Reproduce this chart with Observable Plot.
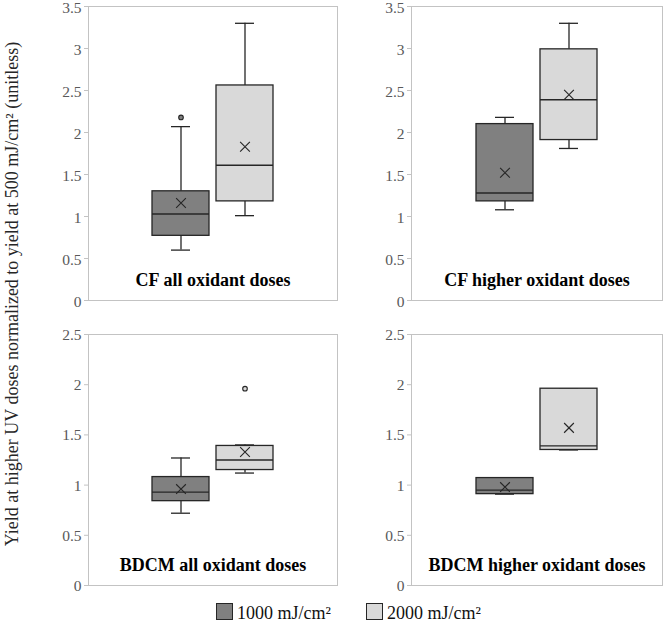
<!DOCTYPE html>
<html>
<head>
<meta charset="utf-8">
<script src="https://cdn.jsdelivr.net/npm/d3@7"></script>
<script src="https://cdn.jsdelivr.net/npm/@observablehq/plot@0.6"></script>
<style>
  html, body { margin: 0; padding: 0; background: #fff; }
  #root { position: relative; width: 664px; height: 622px; background: #fff; font-family: "Liberation Serif", "Times New Roman", serif; overflow: hidden; }
  .panel { position: absolute; }
  #ylabel { position: absolute; left: 12px; top: 294px; transform: translate(-50%, -50%) rotate(-90deg); white-space: nowrap; font-size: 18px; color: #262626; }
  .sw { position: absolute; width: 15px; height: 15px; border: 1px solid #262626; }
  .lt { position: absolute; font-size: 18px; color: #111; white-space: nowrap; line-height: 18px; }
</style>
</head>
<body>
<div id="root"></div>
<script>
// ---- data ----
const doses = ["1000", "2000"];
const doseLabels = ["1000 mJ/cm²", "2000 mJ/cm²"];
const doseColors = ["#808080", "#d9d9d9"];
const panelTitles = ["CF all oxidant doses", "CF higher oxidant doses", "BDCM all oxidant doses", "BDCM higher oxidant doses"];
const yMax = [3.5, 3.5, 2.5, 2.5];
const yTicksCF = [0, 0.5, 1, 1.5, 2, 2.5, 3, 3.5];
const yTicksBDCM = [0, 0.5, 1, 1.5, 2, 2.5];
const whiskerLow  = [[0.60, 1.01], [1.08, 1.81], [0.72, 1.12], [0.91, 1.35]];
const quartile1   = [[0.77, 1.18], [1.18, 1.91], [0.84, 1.15], [0.91, 1.35]];
const medians     = [[1.03, 1.61], [1.28, 2.39], [0.93, 1.25], [0.95, 1.39]];
const quartile3   = [[1.30, 2.56], [2.10, 2.99], [1.08, 1.39], [1.07, 1.96]];
const whiskerHigh = [[2.07, 3.30], [2.18, 3.30], [1.27, 1.40], [1.07, 1.96]];
const means       = [[1.16, 1.83], [1.52, 2.45], [0.96, 1.33], [0.98, 1.57]];
const outlierPanel = [0, 2];
const outlierDose  = ["1000", "2000"];
const outlierValue = [2.18, 1.96];

// ---- layout ----
const layout = [
  {left: 0,   top: 0,   width: 340, height: 310, mL: 88, mR: 3, mT: 6,  mB: 10, labelDy: 2},
  {left: 330, top: 0,   width: 334, height: 310, mL: 81, mR: 2, mT: 6,  mB: 10, labelDy: 2},
  {left: 0,   top: 320, width: 340, height: 275, mL: 88, mR: 3, mT: 14, mB: 10, labelDy: 0.5},
  {left: 330, top: 320, width: 334, height: 275, mL: 81, mR: 2, mT: 14, mB: 10, labelDy: 0.5}
];

const root = document.getElementById("root");
const ink = "#262626";

panelTitles.forEach((title, p) => {
  const rows = doses.map((d, i) => ({
    dose: d,
    lo: whiskerLow[p][i], q1: quartile1[p][i], med: medians[p][i],
    q3: quartile3[p][i], hi: whiskerHigh[p][i], mean: means[p][i]
  }));
  const outs = outlierPanel.map((op, i) => ({panel: op, dose: outlierDose[i], value: outlierValue[i]}))
    .filter(o => o.panel === p);
  const L = layout[p];
  const ticks = yMax[p] > 3 ? yTicksCF : yTicksBDCM;
  const chart = Plot.plot({
    width: L.width, height: L.height,
    marginLeft: L.mL, marginRight: L.mR, marginTop: L.mT, marginBottom: L.mB,
    style: {fontFamily: "Liberation Serif, serif", background: "transparent", overflow: "visible"},
    x: {type: "band", domain: doses, paddingInner: 0.11, paddingOuter: 1.0, axis: null},
    y: {domain: [0, yMax[p]]},
    color: {domain: doses, range: doseColors},
    marks: [
      Plot.frame({stroke: "#c3c3c3"}),
      Plot.axisY(ticks, {tickSize: 4, stroke: "#c3c3c3", tickFormat: () => "", label: null}),
      Plot.axisY(ticks, {tickSize: 0, tickPadding: 7, fill: "#595959", fontSize: 15.5, dy: L.labelDy, tickFormat: d => String(d), label: null}),
      Plot.ruleX(rows, {x: "dose", y1: "q3", y2: "hi", stroke: ink, strokeWidth: 1.3}),
      Plot.ruleX(rows, {x: "dose", y1: "lo", y2: "q1", stroke: ink, strokeWidth: 1.3}),
      Plot.tickY(rows, {x: "dose", y: "hi", insetLeft: 19, insetRight: 19, stroke: ink, strokeWidth: 1.3}),
      Plot.tickY(rows, {x: "dose", y: "lo", insetLeft: 19, insetRight: 19, stroke: ink, strokeWidth: 1.3}),
      Plot.barY(rows, {x: "dose", y1: "q1", y2: "q3", fill: "dose", stroke: ink, strokeWidth: 1.3}),
      Plot.tickY(rows, {x: "dose", y: "med", stroke: ink, strokeWidth: 1.3}),
      Plot.dot(rows, {x: "dose", y: "mean", symbol: "times", r: 4.5, stroke: ink, strokeWidth: 1.1}),
      Plot.dot(outs, {x: "dose", y: "value", r: 2.3, fill: "dose", stroke: ink, strokeWidth: 1.1}),
      Plot.text([title], {frameAnchor: "bottom", dy: -15, fontSize: 18, fontWeight: "bold", fill: "#000"})
    ]
  });
  chart.classList.add("panel");
  chart.style.left = L.left + "px";
  chart.style.top = L.top + "px";
  chart.style.position = "absolute";
  root.appendChild(chart);
});

// y label
const yl = document.createElement("div");
yl.id = "ylabel";
yl.textContent = "Yield at higher UV doses normalized to yield at 500 mJ/cm² (unitless)";
root.appendChild(yl);

// legend
const legendX = [216, 366];
doses.forEach((d, i) => {
  const sw = document.createElement("div");
  sw.className = "sw";
  sw.style.left = legendX[i] + "px";
  sw.style.top = "603px";
  sw.style.background = doseColors[i];
  root.appendChild(sw);
  const t = document.createElement("div");
  t.className = "lt";
  t.style.left = (legendX[i] + 21) + "px";
  t.style.top = "604px";
  t.textContent = doseLabels[i];
  root.appendChild(t);
});
</script>
</body>
</html>
